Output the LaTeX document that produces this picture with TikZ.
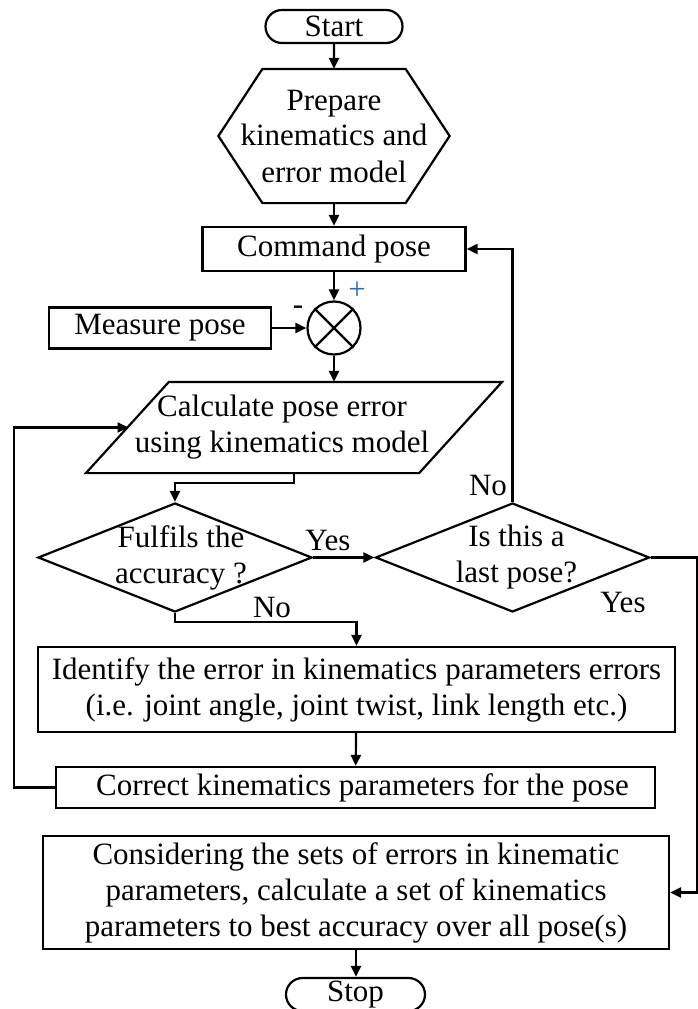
\documentclass[tikz,border=0pt]{standalone}
\usepackage{fontspec}
\setmainfont{Liberation Serif}
\usetikzlibrary{shapes,arrows.meta,positioning,calc}
\definecolor{cplus}{HTML}{2a6db5}

\begin{document}
\begin{tikzpicture}[x=1pt, y=-1pt, line width=2.2pt,
      font=\fontsize{31}{36}\selectfont,
      term/.style={draw, rounded rectangle, minimum width=137pt, minimum height=33pt, inner sep=0pt},
      box/.style={draw, minimum height=41pt, inner sep=0pt, align=center},
      bare/.style={inner sep=0pt, align=center},
      dec/.style={draw, diamond, minimum width=274pt, minimum height=109pt, inner sep=0pt},
      summer/.style={draw, circle, minimum size=53pt, inner sep=0pt},
      arr/.style={-{Stealth[length=11pt, width=10pt, inset=0pt]}}
    ]
    \useasboundingbox (0,0) rectangle (698,1009);

    \node[term] (start) at (334,26.5) {Start};
    \node[bare, minimum width=229pt, minimum height=132pt] (prep) at (334,136) {Prepare\\kinematics and\\error model};
    \draw (prep.west) -- ([xshift=44pt]prep.north west) -- ([xshift=-44pt]prep.north east)
      -- (prep.east) -- ([xshift=-44pt]prep.south east) -- ([xshift=44pt]prep.south west) -- cycle;
    \node[box, minimum width=263pt, minimum height=44pt] (cmd) at (334,249) {Command pose};
    \node[summer] (sum) at (334,328) {};
    \draw (sum.north west) -- (sum.south east) (sum.north east) -- (sum.south west);
    \node[text=cplus] (plus) at (357,291) {+};
    \node (minus) at (298,310) {-};
    \node[box, minimum width=222pt] (meas) at (160,328) {Measure pose};

    % skewed input box
    \node[bare, minimum width=414pt, minimum height=89pt] (calc) at (294,427.5) {};
    \draw ([xshift=83pt]calc.north west) -- (calc.north east) -- ([xshift=-83pt]calc.south east)
      -- (calc.south west) -- cycle;
    \node[bare] (calctxt) at (282,427.5) {Calculate pose error\\using kinematics model};
    \coordinate (calcin) at (128.5,427.5);

    \node[dec, label={[align=center, xshift=6pt]center:{Fulfils the\\accuracy ?}}] (fit) at (175,557.5) {};
    \node[dec, label={[align=center, xshift=4pt]center:{Is this a\\last pose?}}] (last) at (512.5,557.5) {};
    \node[box, minimum width=637pt, minimum height=85pt] (ident) at (356.5,689.5)
      {Identify the error in kinematics parameters errors\\(i.e. joint angle, joint twist, link length etc.)};
    \node[box, minimum width=599pt] (corr) at (355.5,787.5) {\hspace{14pt}Correct kinematics parameters for the pose};
    \node[box, minimum width=626pt, minimum height=113pt] (final) at (356,892.5)
      {Considering the sets of errors in kinematic\\parameters, calculate a set of kinematics\\parameters to best accuracy over all pose(s)};
    \node[term, minimum width=139pt] (stop) at (355.5,994.5) {Stop};

    \node (yes1) at (328,540) {Yes};
    \node (no1) at (272,607) {No};
    \node (no2) at (488,485) {No};
    \node (yes2) at (623,602) {Yes};
    \coordinate (redge) at (697,557.5);

    \draw[arr] (start) -- (prep);
    \draw[arr] (prep) -- (cmd);
    \draw[arr] (cmd) -- (sum);
    \draw[arr] (meas) -- (sum);
    \draw[arr] (sum.south) -- (sum.south |- calc.north);
    \draw[arr] (calc.south) -- ++(0,10) -| (fit.north);
    \draw[arr] (fit.east) -- (last.west);
    \draw[arr] (last.north) |- (cmd.east);
    \draw[arr] (last.east) -- (redge) |- (final.east);
    \draw[arr] (fit.south) -- ++(0,9) -| (ident.north);
    \draw[arr] (ident) -- (corr);
    \draw[arr] (corr.west) -- ++(-41,0) |- (calcin);
    \draw[arr] (final.south) -- (final.south |- stop.north);
  \end{tikzpicture}
\end{document}
